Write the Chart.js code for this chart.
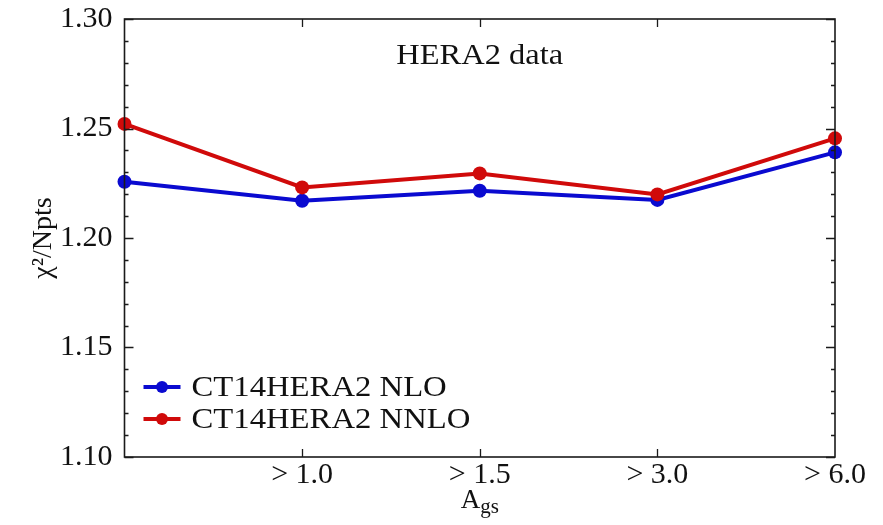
<!DOCTYPE html>
<html>
<head>
<meta charset="utf-8">
<script src="https://cdn.jsdelivr.net/npm/chart.js@4.4.1/dist/chart.umd.min.js"></script>
<style>
    html, body { margin: 0; padding: 0; background: #fff; }
    #wrap { width: 883px; height: 525px; }
</style>
</head>
<body>
<div id="wrap"><canvas id="chiChart" width="883" height="525"></canvas></div>
<script>
// chi^2 per point vs. A_gs cut
const cutLabels = ['', '> 1.0', '> 1.5', '> 3.0', '> 6.0'];
const nloValues = [1.2257, 1.2170, 1.2216, 1.2174, 1.2391];
const nnloValues = [1.2521, 1.2231, 1.2295, 1.2199, 1.2455];
const yMin = 1.10;
const yMax = 1.30;

const SERIF = '"Liberation Serif", "DejaVu Serif", serif';
const BLUE = '#0a0ad0';
const RED = '#d00a0a';

// text slightly widened, like the original typesetting
function wideText(ctx, text, x, y, sx) {
    ctx.save();
    ctx.translate(x, y);
    ctx.scale(sx, 1);
    ctx.fillText(text, 0, 0);
    ctx.restore();
}

// frame, inward ticks, labels and legend drawn inside the plot box
const framePlugin = {
    id: 'frame',
    afterDraw(chart) {
        const ctx = chart.ctx;
        const a = chart.chartArea;
        const x = chart.scales.x;
        const y = chart.scales.y;
        ctx.save();
        ctx.strokeStyle = '#1a1a1a';
        ctx.lineWidth = 1.6;
        ctx.strokeRect(a.left, a.top, a.right - a.left, a.bottom - a.top);

        ctx.lineWidth = 1.3;
        ctx.beginPath();
        // y ticks: major every 0.05, minor every 0.01
        for (let i = 0; i <= 20; i++) {
            const py = Math.round(y.getPixelForValue(yMin + i * 0.01)) + 0.5;
            const len = (i % 5 === 0) ? 9 : 4;
            ctx.moveTo(a.left, py); ctx.lineTo(a.left + len, py);
            ctx.moveTo(a.right, py); ctx.lineTo(a.right - len, py);
        }
        // x ticks at inner categories
        for (let i = 1; i < cutLabels.length - 1; i++) {
            const px = Math.round(x.getPixelForValue(i)) + 0.5;
            ctx.moveTo(px, a.bottom); ctx.lineTo(px, a.bottom - 8);
            ctx.moveTo(px, a.top); ctx.lineTo(px, a.top + 8);
        }
        ctx.stroke();

        // panel label
        ctx.fillStyle = '#111';
        ctx.font = '29px ' + SERIF;
        ctx.textBaseline = 'middle';
        ctx.textAlign = 'center';
        wideText(ctx, 'HERA2 data', (a.left + a.right) / 2, 56, 1.12);

        // legend
        const entries = [
            { text: 'CT14HERA2 NLO', color: BLUE },
            { text: 'CT14HERA2 NNLO', color: RED }
        ];
        entries.forEach((e, i) => {
            const ly = 387 + i * 32;
            ctx.strokeStyle = e.color;
            ctx.lineWidth = 4;
            ctx.beginPath();
            ctx.moveTo(a.left + 19, ly);
            ctx.lineTo(a.left + 56, ly);
            ctx.stroke();
            ctx.fillStyle = e.color;
            ctx.beginPath();
            ctx.arc(a.left + 37.5, ly, 6, 0, Math.PI * 2);
            ctx.fill();
            ctx.fillStyle = '#111';
            ctx.textAlign = 'left';
            ctx.font = '30px ' + SERIF;
            wideText(ctx, e.text, a.left + 67, ly + 1, 1.09);
        });

        // axis titles
        ctx.font = '28px ' + SERIF;
        ctx.save();
        ctx.translate(44, (a.top + a.bottom) / 2);
        ctx.rotate(-Math.PI / 2);
        ctx.textAlign = 'center';
        ctx.fillText('\u03c7\u00b2/Npts', 0, 0);
        ctx.restore();

        const cx = (a.left + a.right) / 2;
        ctx.textAlign = 'left';
        ctx.textBaseline = 'alphabetic';
        ctx.font = '27px ' + SERIF;
        const aw = ctx.measureText('A').width;
        ctx.font = '21px ' + SERIF;
        const sw = ctx.measureText('gs').width;
        const startX = cx - (aw + sw) / 2;
        ctx.font = '27px ' + SERIF;
        ctx.fillText('A', startX, 508);
        ctx.font = '21px ' + SERIF;
        ctx.fillText('gs', startX + aw, 513);
        ctx.restore();
    }
};

const ctx = document.getElementById('chiChart').getContext('2d');
new Chart(ctx, {
    type: 'line',
    data: {
        labels: cutLabels,
        datasets: [{
            label: 'CT14HERA2 NLO',
            data: nloValues,
            borderColor: BLUE,
            backgroundColor: BLUE,
            borderWidth: 4,
            pointRadius: 7,
            pointBorderWidth: 0,
            tension: 0,
            clip: false,
            order: 2
        }, {
            label: 'CT14HERA2 NNLO',
            data: nnloValues,
            borderColor: RED,
            backgroundColor: RED,
            borderWidth: 4,
            pointRadius: 7,
            pointBorderWidth: 0,
            tension: 0,
            clip: false,
            order: 1
        }]
    },
    options: {
        responsive: false,
        animation: false,
        devicePixelRatio: 1,
        layout: { padding: { top: 19, right: 48, left: 0, bottom: 0 } },
        plugins: {
            legend: { display: false },
            tooltip: { enabled: false }
        },
        scales: {
            x: {
                offset: false,
                grid: { display: false, drawTicks: false },
                border: { display: false },
                ticks: {
                    color: '#111',
                    font: { family: SERIF, size: 30 },
                    padding: 0,
                    maxRotation: 0,
                    autoSkip: false
                },
                afterFit(scale) { scale.height = 68; }
            },
            y: {
                min: yMin,
                max: yMax,
                grid: { display: false, drawTicks: false },
                border: { display: false },
                ticks: {
                    stepSize: 0.05,
                    color: '#111',
                    font: { family: SERIF, size: 30 },
                    padding: 12,
                    callback: v => v.toFixed(2)
                },
                afterFit(scale) {
                    scale.width = 124.5;
                    scale.paddingTop = 0;
                    scale.paddingBottom = 0;
                }
            }
        }
    },
    plugins: [framePlugin]
});
</script>
</body>
</html>
